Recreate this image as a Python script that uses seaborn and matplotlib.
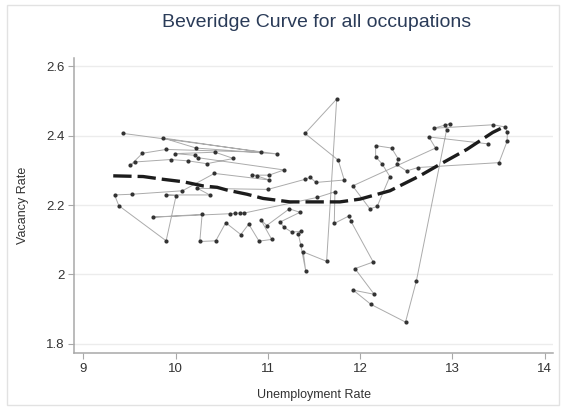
import matplotlib
matplotlib.use("Agg")
import matplotlib.pyplot as plt
import seaborn as sns
import pandas as pd
from matplotlib.patches import Rectangle

# Monthly observations, in time order (unemployment rate, vacancy rate)
unemp = [9.436, 11.100, 10.223, 9.863, 10.926, 9.898, 9.642, 9.509, 9.566, 9.949,
         10.140, 10.339, 10.627, 10.429, 9.996, 10.212, 10.248, 11.175, 11.013, 10.826,
         10.880, 11.016, 10.421, 10.075, 9.527, 9.339, 9.386, 9.898, 10.006, 9.898,
         10.371, 10.237, 11.002, 11.403, 11.457, 11.522, 11.828, 11.763, 11.403, 11.746,
         11.637, 11.384, 11.410, 11.356, 11.330, 11.356, 11.259, 11.175, 11.132, 11.348,
         11.233, 10.988, 10.923, 11.042, 10.905, 10.793, 10.707, 10.544, 10.436, 10.263,
         10.288, 9.754, 10.591, 10.645, 10.699, 10.746, 11.536, 11.727, 11.720, 11.882,
         11.897, 12.142, 11.944, 12.153, 11.925, 12.117, 12.492, 12.610, 12.936, 12.925,
         12.972, 12.799, 13.440, 13.567, 13.596, 13.592, 13.505, 12.629, 12.503, 12.395,
         12.412, 12.341, 12.168, 12.168, 12.239, 12.322, 12.185, 12.106, 11.919, 12.817,
         12.745, 13.386]
vacancy = [2.406, 2.347, 2.364, 2.393, 2.352, 2.360, 2.349, 2.314, 2.324, 2.331,
           2.327, 2.319, 2.334, 2.352, 2.348, 2.343, 2.336, 2.301, 2.286, 2.286,
           2.284, 2.272, 2.291, 2.241, 2.231, 2.229, 2.198, 2.097, 2.227, 2.229,
           2.229, 2.248, 2.245, 2.274, 2.280, 2.265, 2.272, 2.329, 2.406, 2.505,
           2.038, 2.065, 2.011, 2.086, 2.117, 2.124, 2.122, 2.136, 2.151, 2.179,
           2.189, 2.141, 2.158, 2.101, 2.096, 2.145, 2.115, 2.149, 2.097, 2.095,
           2.173, 2.165, 2.175, 2.176, 2.177, 2.177, 2.222, 2.238, 2.147, 2.169,
           2.155, 2.036, 2.017, 1.943, 1.955, 1.914, 1.863, 1.982, 2.415, 2.429,
           2.434, 2.421, 2.431, 2.425, 2.409, 2.383, 2.322, 2.308, 2.298, 2.317,
           2.333, 2.364, 2.371, 2.339, 2.318, 2.282, 2.196, 2.189, 2.255, 2.364,
           2.396, 2.376]

# Smoothed trend through the observations
trend_u = [9.325, 9.649, 9.866, 10.082, 10.299, 10.450, 10.558, 10.775, 10.948, 11.240,
           11.457, 11.781, 11.998, 12.323, 12.647, 12.864, 13.156, 13.437, 13.567]
trend_v = [2.284, 2.282, 2.274, 2.267, 2.255, 2.251, 2.243, 2.231, 2.219, 2.209,
           2.209, 2.209, 2.217, 2.241, 2.284, 2.317, 2.360, 2.409, 2.426]

x_ticks = [9, 10, 11, 12, 13, 14]
y_ticks = [1.8, 2.0, 2.2, 2.4, 2.6]
y_tick_labels = ["1.8", "2", "2.2", "2.4", "2.6"]

sns.set_style("white")
plt.rcParams["font.family"] = ["Liberation Sans", "DejaVu Sans"]

fig = plt.figure(figsize=(5.72, 4.09), dpi=100)
ax = fig.add_axes([0.1294, 0.1369, 0.8374, 0.7211])

obs = pd.DataFrame({"u": unemp, "v": vacancy, "t": range(len(unemp))})
trend = pd.DataFrame({"u": trend_u, "v": trend_v})

sns.lineplot(data=obs, x="u", y="v", sort=False, estimator=None, ax=ax,
             color="#ababab", linewidth=0.7, zorder=2)
sns.scatterplot(data=obs, x="u", y="v", ax=ax, color="#333333", s=9,
                linewidth=0, zorder=3)
sns.lineplot(data=trend, x="u", y="v", sort=False, estimator=None, ax=ax,
             color="#1c1c1c", linewidth=2.4, dashes=False, zorder=4)
ax.lines[-1].set_dashes((5.5, 1.8))

ax.set_xlim(8.9, 14.09)
ax.set_ylim(1.774, 2.623)
ax.set_xticks(x_ticks)
ax.set_xticklabels([str(t) for t in x_ticks])
ax.set_yticks(y_ticks)
ax.set_yticklabels(y_tick_labels)

ax.yaxis.grid(True, color="#ececec", linewidth=1.0)
ax.xaxis.grid(False)
ax.set_axisbelow(True)

for side in ("top", "right"):
    ax.spines[side].set_visible(False)
for side in ("left", "bottom"):
    ax.spines[side].set_color("#a8a8a8")
    ax.spines[side].set_linewidth(1.1)

ax.tick_params(axis="both", direction="out", length=4, width=0.8,
               color="#a8a8a8", labelsize=9.5, labelcolor="#333333", pad=3)
ax.tick_params(axis="both", which="both", bottom=True, left=True)

ax.set_xlabel("Unemployment Rate", fontsize=9, color="#333333", labelpad=10)
ax.set_ylabel("Vacancy Rate", fontsize=9, color="#333333", labelpad=12)

fig.text(0.553, 0.946, "Beveridge Curve for all occupations", ha="center", va="center",
         fontsize=14, color="#2a3b58")

fig.patches.append(Rectangle((0.012, 0.01), 0.965, 0.978, transform=fig.transFigure,
                             fill=False, edgecolor="#e2e2e2", linewidth=1.0))

fig.savefig("out.png", dpi=100)
